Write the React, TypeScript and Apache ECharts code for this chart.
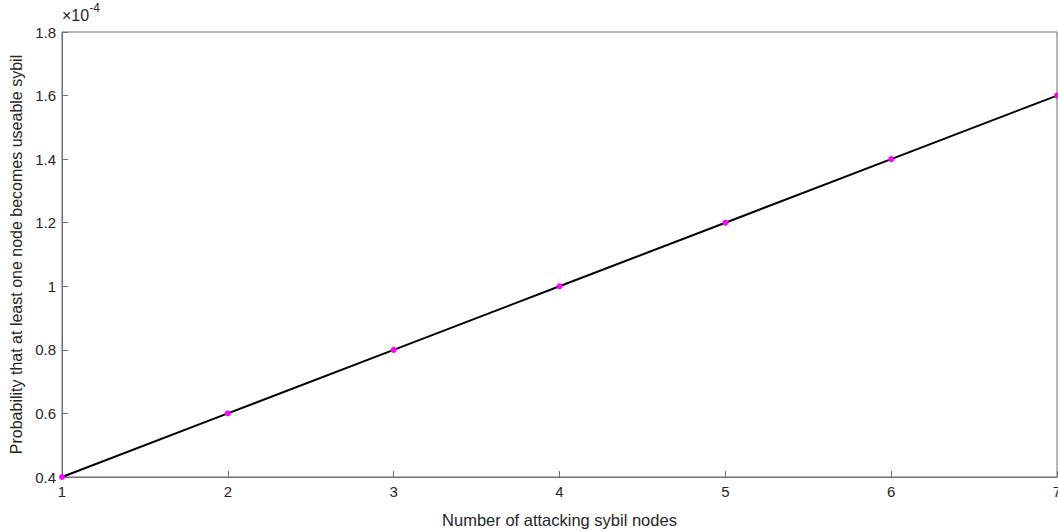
import React, { useEffect, useRef } from "react";
import * as echarts from "echarts";

const nodes = [1, 2, 3, 4, 5, 6, 7];
const probability = [0.00004, 0.00006, 0.00008, 0.0001, 0.00012, 0.00014, 0.00016];
const xLabel = "Number of attacking sybil nodes";
const yLabel = "Probability that at least one node becomes useable sybil";
const exponentLabel = "-4";

export default function App() {
  const ref = useRef<HTMLDivElement>(null);
  useEffect(() => {
    if (!ref.current) return;
    const chart = echarts.init(ref.current, undefined, { renderer: "svg" });
    const font = "'Liberation Sans', Arial, Helvetica, sans-serif";
    const axisColor = "#6e6e6e";
    chart.setOption({
      animation: false,
      grid: {
        left: 62,
        right: 1,
        top: 32,
        bottom: 54,
        show: true,
        borderColor: axisColor,
        borderWidth: 1,
        backgroundColor: "#fff",
        containLabel: false,
        outerBoundsMode: "none",
      },
      xAxis: {
        type: "value",
        min: 1,
        max: 7,
        interval: 1,
        name: xLabel,
        nameLocation: "middle",
        nameGap: 34,
        nameTextStyle: { fontFamily: font, fontSize: 16.5, color: "#262626" },
        axisLine: { show: true, lineStyle: { color: axisColor, width: 1 } },
        axisTick: { show: true, inside: true, length: 6, lineStyle: { color: axisColor } },
        axisLabel: { fontFamily: font, fontSize: 15, color: "#262626", margin: 7, showMaxLabel: true, hideOverlap: false },
        splitLine: { show: false },
      },
      yAxis: {
        type: "value",
        min: 0.00004,
        max: 0.00018,
        interval: 0.00002,
        name: yLabel,
        nameLocation: "middle",
        nameGap: 38,
        nameTextStyle: { fontFamily: font, fontSize: 16, color: "#262626" },
        axisLine: { show: true, lineStyle: { color: axisColor, width: 1 } },
        axisTick: { show: true, inside: true, length: 6, lineStyle: { color: axisColor } },
        axisLabel: {
          fontFamily: font,
          fontSize: 15,
          color: "#262626",
          margin: 6,
          formatter: (v: number) => String(parseFloat((v * 1e4).toFixed(2))),
        },
        splitLine: { show: false },
      },
      graphic: [
        {
          type: "text",
          left: 62,
          top: 2,
          style: {
            text: "{a|×10}{b|" + exponentLabel + "}",
            rich: {
              a: { fontFamily: font, fontSize: 16, fill: "#262626", verticalAlign: "bottom" },
              b: { fontFamily: font, fontSize: 12, fill: "#262626", verticalAlign: "top", padding: [0, 0, 9, 0] },
            },
          },
        },
      ],
      series: [
        {
          type: "line",
          data: nodes.map((n, i) => [n, probability[i]]),
          lineStyle: { color: "#000", width: 2 },
          itemStyle: { color: "#ff00ff" },
          symbol: "circle",
          symbolSize: 6,
          showSymbol: true,
          clip: false,
          z: 3,
        },
      ],
    });
    return () => chart.dispose();
  }, []);
  return (
    <div
      ref={ref}
      style={{ position: "fixed", left: 0, top: 0, width: 1058, height: 531, background: "#fff" }}
    />
  );
}
